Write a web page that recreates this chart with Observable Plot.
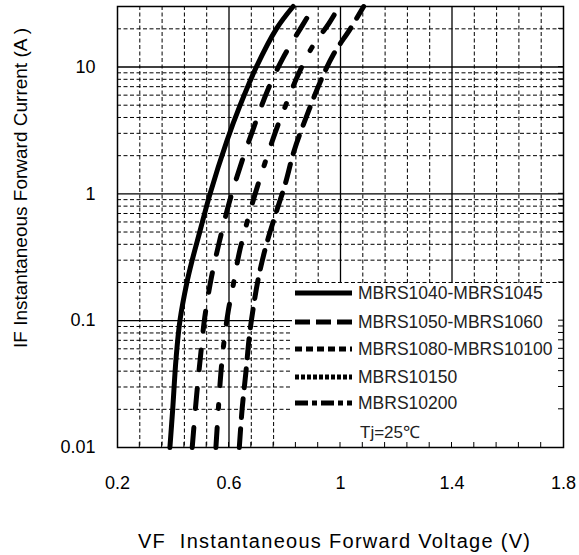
<!DOCTYPE html>
<html><head><meta charset="utf-8">
<script src="https://cdn.jsdelivr.net/npm/d3@7"></script>
<script src="https://cdn.jsdelivr.net/npm/@observablehq/plot@0.6"></script>
<style>body{margin:0;background:#fff} svg{display:block}</style>
</head><body><div id="chart"></div>
<script>
// ---- data ----
const legendNames = ["MBRS1040-MBRS1045","MBRS1050-MBRS1060","MBRS1080-MBRS10100","MBRS10150","MBRS10200"];
const noteText = "Tj=25\u2103";
const xTitle = "VF  Instantaneous Forward Voltage (V)";
const yTitle = "IF Instantaneous Forward Current (A )";
const xTicks = [0.2, 0.6, 1, 1.4, 1.8];
const yTicks = [0.01, 0.1, 1, 10];
const gridMajorX = [0.6, 1.0, 1.4];
const gridMinorX = [0.28,0.36,0.44,0.52,0.68,0.76,0.84,0.92,1.08,1.16,1.24,1.32,1.48,1.56,1.64,1.72];
const gridMajorY = [0.1, 1, 10];
const gridMinorY = [0.02,0.03,0.04,0.05,0.06,0.07,0.08,0.09,0.2,0.3,0.4,0.5,0.6,0.7,0.8,0.9,2,3,4,5,6,7,8,9,20];

// MBRS1040-MBRS1045 (solid)
const s1040IF = [0.01,0.02,0.05,0.1,0.2,0.3,0.5,1,2.6,5,10,20,30];
const s1040VF = [0.388,0.398,0.410,0.424,0.449,0.468,0.495,0.532,0.592,0.640,0.698,0.770,0.830];
// MBRS1050-MBRS1060 (long dash)
const s1050IF = [0.01,0.026,0.053,0.106,0.22,0.415,0.84,1.66,3.3,6.5,11.6,21.6,30];
const s1050VF = [0.468,0.484,0.498,0.513,0.537,0.565,0.600,0.641,0.688,0.738,0.792,0.865,0.905];
// MBRS10200 (dash-dot)
const s10200IF = [0.01,0.022,0.039,0.068,0.118,0.206,0.345,0.61,1.02,3.05,5.1,8.5,14.3,22,30];
const s10200VF = [0.553,0.563,0.571,0.582,0.597,0.618,0.637,0.666,0.695,0.766,0.805,0.846,0.898,0.958,0.995];
// MBRS1080-MBRS10100 (dash)
const s1080IF = [0.01,0.02,0.04,0.079,0.13,0.22,0.39,0.7,1.2,2.2,4.65,7.7,12.5,20,30];
const s1080VF = [0.637,0.647,0.661,0.674,0.688,0.706,0.733,0.768,0.802,0.834,0.888,0.928,0.974,1.035,1.083];

(function () {
const rows = (IF, VF) => IF.map((c, i) => ({vf: VF[i], if: c}));

const FONT = "'Liberation Sans', Arial, Helvetica, sans-serif";
const lineW = 5;
const W = 579, H = 555, mL = 117, mR = 16, mT = 6, mB = 108;

const plot = Plot.plot({
  width: W, height: H,
  marginLeft: mL, marginRight: mR, marginTop: mT, marginBottom: mB,
  style: {fontFamily: FONT, fontSize: "18px", background: "#fff", color: "#000", overflow: "visible"},
  x: {domain: [0.2, 1.8]},
  y: {type: "log", domain: [0.01, 30]},
  marks: [
    Plot.ruleX(gridMinorX, {stroke: "#000", strokeWidth: 1, strokeDasharray: "4,2.5"}),
    Plot.ruleY(gridMinorY, {stroke: "#000", strokeWidth: 1, strokeDasharray: "4,2.5"}),
    Plot.ruleX(gridMajorX, {stroke: "#000", strokeWidth: 1.3}),
    Plot.ruleY(gridMajorY, {stroke: "#000", strokeWidth: 1.3}),
    Plot.axisX(xTicks, {tickSize: 0, tickPadding: 29, tickFormat: d => String(d), label: null, fill: "#000"}),
    Plot.axisY(yTicks, {tickSize: 0, tickPadding: 22, tickFormat: d => String(d), label: null, fill: "#000"}),
    Plot.line(rows(s1040IF, s1040VF), {x: "vf", y: "if", stroke: "#000", strokeWidth: lineW, curve: "catmull-rom"}),
    Plot.line(rows(s1050IF, s1050VF), {x: "vf", y: "if", stroke: "#000", strokeWidth: lineW, strokeDasharray: "20,19", curve: "catmull-rom"}),
    Plot.line(rows(s10200IF, s10200VF), {x: "vf", y: "if", stroke: "#000", strokeWidth: lineW, strokeDasharray: "20,19,4,19", curve: "catmull-rom"}),
    Plot.line(rows(s1080IF, s1080VF), {x: "vf", y: "if", stroke: "#000", strokeWidth: lineW, strokeDasharray: "19,11", curve: "catmull-rom"}),
    Plot.frame({stroke: "#000", strokeWidth: 1.5})
  ]
});
document.getElementById("chart").append(plot);

// ---- legend, inward ticks and titles ----
const svg = d3.select(plot);
const ys = plot.scale("y"), xs = plot.scale("x");
const fy = d3.scaleLog().domain(ys.domain).range(ys.range);
const fx = d3.scaleLinear().domain(xs.domain).range(xs.range);
const right = W - mR, bottom = H - mB;
const frameNode = plot.querySelector("[aria-label=frame]");

const leg = d3.create("svg:g");
plot.insertBefore(leg.node(), frameNode);
const boxTop = fy(0.2) + 1;
leg.append("rect").attr("x", right - 271).attr("y", boxTop)
  .attr("width", 271).attr("height", bottom - boxTop).style("fill", "#fff").style("stroke", "none");
const legDash = [null, "15,6", "7,4", "4,2", "13,4,5,4"];
const legRowY = [293, 322, 349, 377, 403];
legendNames.forEach((name, i) => {
  leg.append("line").attr("x1", right - 268).attr("x2", right - 211)
    .attr("y1", legRowY[i]).attr("y2", legRowY[i])
    .style("stroke", "#000").style("stroke-width", 5)
    .attr("stroke-dasharray", legDash[i]);
  leg.append("text").attr("x", right - 205).attr("y", legRowY[i]).attr("dy", "0.36em")
    .style("text-anchor", "start").style("font-family", FONT).style("font-size", "17.5px")
    .style("fill", "#222").text(name);
});
leg.append("text").attr("x", right - 203).attr("y", 432).attr("dy", "0.36em")
  .style("text-anchor", "start").style("font-family", FONT).style("font-size", "17px")
  .style("fill", "#222").text(noteText);

// inward ticks on bottom and right edges
const tk = d3.create("svg:g").style("stroke", "#000").style("stroke-width", 1);
plot.insertBefore(tk.node(), frameNode);
gridMinorX.concat(gridMajorX).forEach(v => {
  const x = fx(v);
  tk.append("line").attr("x1", x).attr("x2", x).attr("y1", bottom).attr("y2", bottom - 5);
});
gridMinorY.concat(gridMajorY).forEach(v => {
  const y = fy(v);
  tk.append("line").attr("x1", right).attr("x2", right - 5).attr("y1", y).attr("y2", y);
});

// axis titles
svg.append("text").attr("x", 334).attr("y", 548)
  .style("text-anchor", "middle").style("font-family", FONT).style("font-size", "20px").style("fill", "#000")
  .attr("textLength", 392).attr("lengthAdjust", "spacing").text(xTitle);
svg.append("text").attr("transform", "translate(27,188) rotate(-90)")
  .style("text-anchor", "middle").style("font-family", FONT).style("font-size", "19px").style("fill", "#000")
  .text(yTitle);
})();
</script>
</body></html>
